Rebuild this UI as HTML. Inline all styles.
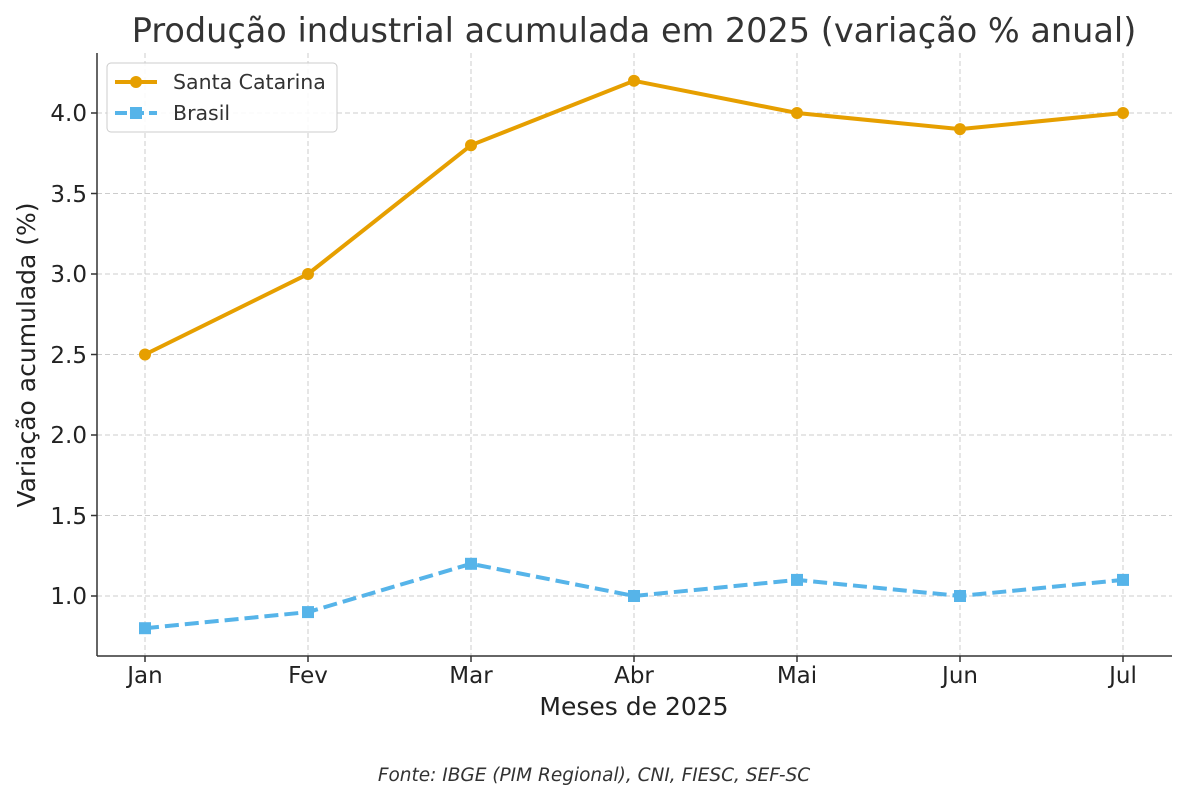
<!DOCTYPE html>
<html><head><meta charset="utf-8"><style>body{margin:0;background:#fff}</style></head><body>
<svg width="1187" height="800" xmlns="http://www.w3.org/2000/svg" font-family="DejaVu Sans, Liberation Sans, sans-serif">
<rect width="1187" height="800" fill="#fff"/>
<text x="634" y="42" font-size="33.5" text-anchor="middle" fill="#333">Produção industrial acumulada em 2025 (variação % anual)</text>
<g stroke="#ccc" stroke-width="1" stroke-dasharray="5,3">
<line x1="145" y1="53" x2="145" y2="656"/><line x1="308" y1="53" x2="308" y2="656"/><line x1="471" y1="53" x2="471" y2="656"/><line x1="634" y1="53" x2="634" y2="656"/><line x1="797" y1="53" x2="797" y2="656"/><line x1="960" y1="53" x2="960" y2="656"/><line x1="1123" y1="53" x2="1123" y2="656"/>
<line x1="97" y1="596" x2="1172" y2="596"/><line x1="97" y1="515.5" x2="1172" y2="515.5"/><line x1="97" y1="435" x2="1172" y2="435"/><line x1="97" y1="354.5" x2="1172" y2="354.5"/><line x1="97" y1="274" x2="1172" y2="274"/><line x1="97" y1="193.5" x2="1172" y2="193.5"/><line x1="97" y1="113" x2="1172" y2="113"/>
</g>
<g stroke="#333" stroke-width="1.5"><line x1="97" y1="53" x2="97" y2="656"/><line x1="97" y1="656" x2="1172" y2="656"/>
<line x1="91" y1="596" x2="97" y2="596"/><line x1="91" y1="515.5" x2="97" y2="515.5"/><line x1="91" y1="435" x2="97" y2="435"/><line x1="91" y1="354.5" x2="97" y2="354.5"/><line x1="91" y1="274" x2="97" y2="274"/><line x1="91" y1="193.5" x2="97" y2="193.5"/><line x1="91" y1="113" x2="97" y2="113"/>
<line x1="145" y1="656" x2="145" y2="662"/><line x1="308" y1="656" x2="308" y2="662"/><line x1="471" y1="656" x2="471" y2="662"/><line x1="634" y1="656" x2="634" y2="662"/><line x1="797" y1="656" x2="797" y2="662"/><line x1="960" y1="656" x2="960" y2="662"/><line x1="1123" y1="656" x2="1123" y2="662"/></g>
<g font-size="23" fill="#222" text-anchor="end">
<text x="87" y="604">1.0</text><text x="87" y="524">1.5</text><text x="87" y="443">2.0</text><text x="87" y="363">2.5</text><text x="87" y="282">3.0</text><text x="87" y="202">3.5</text><text x="87" y="121">4.0</text></g>
<g font-size="23" fill="#222" text-anchor="middle">
<text x="145" y="683">Jan</text><text x="308" y="683">Fev</text><text x="471" y="683">Mar</text><text x="634" y="683">Abr</text><text x="797" y="683">Mai</text><text x="960" y="683">Jun</text><text x="1123" y="683">Jul</text>
<text x="634" y="715" font-size="25">Meses de 2025</text>
<text transform="translate(35,355) rotate(-90)" font-size="25">Variação acumulada (%)</text></g>
<text x="594" y="781" font-size="18.5" font-style="italic" text-anchor="middle" fill="#333">Fonte: IBGE (PIM Regional), CNI, FIESC, SEF-SC</text>
<polyline fill="none" stroke="#E69F00" stroke-width="4" points="145,354.5 308,274 471,145.2 634,80.8 797,113 960,129.1 1123,113"/>
<g fill="#E69F00"><circle cx="145" cy="354.5" r="6"/><circle cx="308" cy="274" r="6"/><circle cx="471" cy="145.2" r="6"/><circle cx="634" cy="80.8" r="6"/><circle cx="797" cy="113" r="6"/><circle cx="960" cy="129.1" r="6"/><circle cx="1123" cy="113" r="6"/></g>
<polyline fill="none" stroke="#56B4E9" stroke-width="4" stroke-dasharray="14,6" points="145,628.2 308,612.1 471,563.8 634,596 797,579.9 960,596 1123,579.9"/>
<g fill="#56B4E9"><rect x="139" y="622.2" width="12" height="12"/><rect x="302" y="606.1" width="12" height="12"/><rect x="465" y="557.8" width="12" height="12"/><rect x="628" y="590" width="12" height="12"/><rect x="791" y="573.9" width="12" height="12"/><rect x="954" y="590" width="12" height="12"/><rect x="1117" y="573.9" width="12" height="12"/></g>
<rect x="107" y="63" width="230" height="69" rx="4" fill="#fff" fill-opacity="0.85" stroke="#ccc"/>
<line x1="115" y1="82" x2="157" y2="82" stroke="#E69F00" stroke-width="4"/><circle cx="136" cy="82" r="6" fill="#E69F00"/>
<line x1="115" y1="113" x2="157" y2="113" stroke="#56B4E9" stroke-width="4" stroke-dasharray="12,5"/><rect x="130" y="107" width="12" height="12" fill="#56B4E9"/>
<text x="173" y="89" font-size="20.5" fill="#333">Santa Catarina</text>
<text x="173" y="120" font-size="20.5" fill="#333">Brasil</text>
</svg>
</body></html>
